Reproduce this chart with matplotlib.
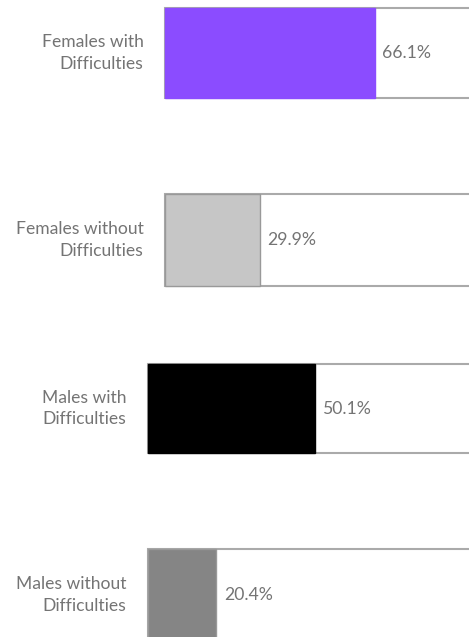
import matplotlib
matplotlib.use("Agg")
import matplotlib.pyplot as plt

categories = ["Females with\nDifficulties", "Females without\nDifficulties",
              "Males with\nDifficulties", "Males without\nDifficulties"]
values = [66.1, 29.9, 50.1, 20.4]
colors = ["#8b4cff", "#c6c6c6", "#000000", "#858585"]
value_labels = ["66.1%", "29.9%", "50.1%", "20.4%"]

W, H = 469, 637
fig = plt.figure(figsize=(W / 100, H / 100), dpi=100)
fig.patch.set_facecolor("white")

# pixel rectangles (left, top, bottom) for each small bar panel
panels = [(165, 8, 98), (165, 194, 286), (148, 364, 453), (148, 549, 641)]
right_px = 482

plt.rcParams["font.family"] = ["Lato", "DejaVu Sans"]
text_color = "#747474"

for cat, val, col, vl, (lp, tp, bp) in zip(categories, values, colors, value_labels, panels):
    ax = fig.add_axes([lp / W, (H - bp) / H, (right_px - lp) / W, (bp - tp) / H])
    ax.set_xlim(0, 100)
    ax.set_ylim(-0.5, 0.5)
    ax.axis("off")
    ax.barh(0, 100, height=1, facecolor="white", edgecolor="#aaaaaa",
            linewidth=1.5, clip_on=False, zorder=1)
    ax.barh(0, val, height=1, facecolor=col, edgecolor=col if col in ("#8b4cff", "#000000") else "#999999",
            linewidth=1.0, clip_on=False, zorder=2)
    ax.annotate(vl, xy=(val, 0), xytext=(5.5, 0), textcoords="offset points",
                ha="left", va="center", fontsize=12.7, color=text_color)
    ax.annotate(cat, xy=(0, 0), xytext=(-15.5, 0), textcoords="offset points",
                ha="right", va="center", fontsize=12.6, color=text_color,
                linespacing=1.45)

fig.savefig("out.png", dpi=100, facecolor="white")
